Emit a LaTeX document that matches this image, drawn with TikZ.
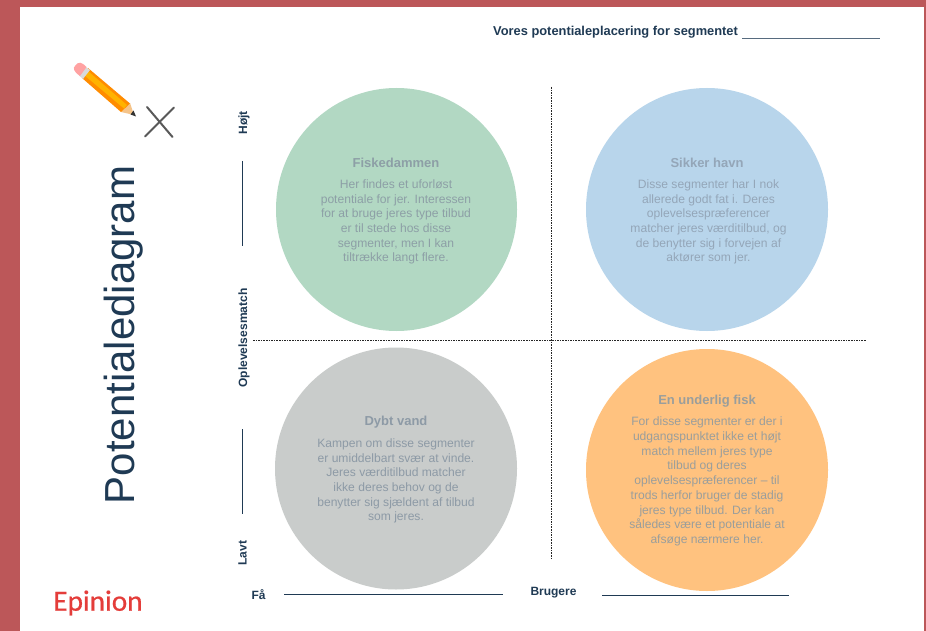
\documentclass[tikz,border=0pt]{standalone}
\usepackage{fontspec}
\usetikzlibrary{shapes.geometric}
\setmainfont{Liberation Sans}
\newfontfamily\epfont[FakeBold=0.6]{Carlito}
\definecolor{bgred}{HTML}{BC5759}
\definecolor{ink}{HTML}{1F3A54}
\definecolor{cgreen}{HTML}{B2D8C3}
\definecolor{cblue}{HTML}{B8D5EB}
\definecolor{cgrey}{HTML}{C9CCCB}
\definecolor{corange}{HTML}{FFC27F}
\definecolor{tgreen}{HTML}{8D9FA6}
\definecolor{tblue}{HTML}{94A6B8}
\definecolor{tgrey}{HTML}{8D9AA6}
\definecolor{torange}{HTML}{9A9E9C}
\definecolor{pencilwood}{HTML}{F5C48A}
\tikzset{
 x=1pt,y=-1pt,
 disc/.style={ellipse,minimum width=#1,inner sep=0pt,draw=none},
 body/.style={font=\fontsize{12.1}{14.7}\selectfont,align=center,inner sep=0pt},
 ctitle/.style={font=\fontsize{13}{15}\selectfont\bfseries,inner sep=0pt},
 axlabel/.style={font=\fontsize{12}{14}\selectfont\bfseries,text=ink,inner sep=0pt},
 axline/.style={draw=ink,line width=1pt},
 quad/.style={draw=black!85,line width=0.5pt,dash pattern=on 1.6pt off 1pt},
}
\begin{document}
\begin{tikzpicture}
\useasboundingbox (0,0) rectangle (926,631);
\fill[bgred] (0,0) rectangle (926,631);
\fill[white] (20,7) rectangle (924,631);
% discs
\node[disc=241pt,minimum height=243pt,fill=cgreen] (dg) at (396.5,209.5) {};
\node[disc=242pt,minimum height=243pt,fill=cblue] (db) at (707,209.5) {};
\node[disc=242pt,minimum height=242pt,fill=cgrey] (dy) at (396,468.5) {};
\node[disc=242pt,minimum height=242pt,fill=corange] (do) at (707,470) {};
% quadrant lines
\coordinate (vt) at (551,87); \coordinate (vb) at (551,558);
\coordinate (hl) at (253,340); \coordinate (hr) at (866,340);
\draw[quad] (vt) -- (vb);
\draw[quad] (hl) -- (hr);
% texts
\node[ctitle,text=tgreen] (t1) at (396,162.5) {Fiskedammen};
\node[body,text=tgreen] (b1) at (396,222) {Her findes et uforløst\\potentiale for jer. Interessen\\for at bruge jeres type tilbud\\er til stede hos disse\\segmenter, men I kan\\tiltrække langt flere.};
\node[ctitle,text=tblue] (t2) at (707,162.5) {Sikker havn};
\node[body,text=tblue] (b2) at (708.5,222) {Disse segmenter har I nok\\allerede godt fat i. Deres\\oplevelsespræferencer\\matcher jeres værditilbud, og\\de benytter sig i forvejen af\\aktører som jer.};
\node[ctitle,text=tgrey] (t3) at (396,422) {Dybt vand};
\node[body,text=tgrey] (b3) at (396,481) {Kampen om disse segmenter\\er umiddelbart svær at vinde.\\Jeres værditilbud matcher\\ikke deres behov og de\\benytter sig sjældent af tilbud\\som jeres.};
\node[ctitle,text=torange] (t4) at (707,401.5) {En underlig fisk};
\node[body,text=torange] (b4) at (707,481.5) {For disse segmenter er der i\\udgangspunktet ikke et højt\\match mellem jeres type\\tilbud og deres\\oplevelsespræferencer – til\\trods herfor bruger de stadig\\jeres type tilbud. Der kan\\således være et potentiale at\\afsøge nærmere her.};
% header
\node[anchor=west,inner sep=0pt,text=ink,font=\fontsize{12.85}{15}\selectfont\bfseries] (hd) at (493,32.5) {Vores potentialeplacering for segmentet};
\coordinate (ua) at (742,38.5); \coordinate (ub) at (880,38.5);
\draw[draw=ink!75,line width=1.2pt] (ua) -- (ub);
% title
\node[rotate=90,inner sep=0pt,text=ink,font=\fontsize{42}{46}\selectfont] (ti) at (123.5,335) {Potentialediagram};
% y axis
\node[axlabel,rotate=90] (hoj) at (244,123) {Højt};
\node[axlabel,rotate=90] (ople) at (244,338) {Oplevelsesmatch};
\node[axlabel,rotate=90] (lav) at (242.5,553) {Lavt};
\coordinate (y1) at (242,161); \coordinate (y2) at (242,246);
\coordinate (y3) at (242,429); \coordinate (y4) at (242,514);
\draw[axline] (y1) -- (y2);
\draw[axline] (y3) -- (y4);
% x axis
\node[axlabel] (fa) at (258.5,595) {Få};
\node[axlabel] (bru) at (553.5,592.5) {Brugere};
\coordinate (x1) at (284,594.5); \coordinate (x2) at (503,594.5);
\coordinate (x3) at (602,595); \coordinate (x4) at (789,595);
\draw[axline] (x1) -- (x2);
\draw[axline] (x3) -- (x4);
% logo
\node[inner sep=0pt,font=\fontsize{29.3}{31}\selectfont\epfont] (ep) at (98,603) {\textcolor[HTML]{E43D3A}{Epinion}};
% pencil: body runs from the eraser (upper left) to the tip (lower right)
\fill[pencilwood] (134,115) -- (121,112) -- (130,103) -- cycle;
\fill[black!80] (136,116.5) -- (130.5,114.5) -- (133.5,110.5) -- cycle;
\fill[orange!90!yellow] (82,78) -- (88,68) -- (130,103.5) -- (121,112) -- cycle;
\fill[orange!60!yellow] (84,75) -- (88,71) -- (127,105) -- (124,108.5) -- cycle;
\fill[black!15] (79,75.5) -- (86,67) -- (90,70) -- (83,79) -- cycle;
\fill[pink!85!red] (80,76) .. controls (73,71) and (73,68) .. (75,66) .. controls (78,61) and (82,62) .. (86.5,67) -- cycle;
% cross
\draw[black!65,line width=2pt,line cap=round] (145,136.5) -- (174,107.5);
\draw[black!65,line width=2pt,line cap=round] (147,107) -- (172.5,137);
\end{tikzpicture}
\end{document}
